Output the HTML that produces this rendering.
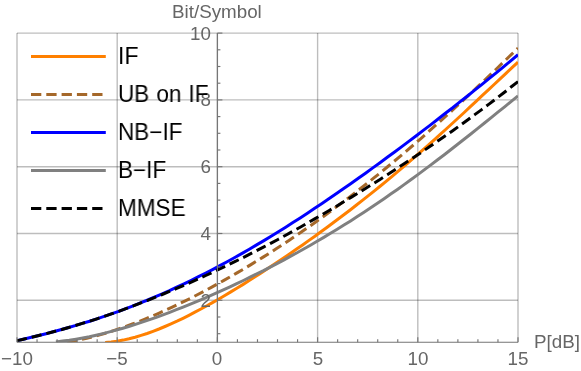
<!DOCTYPE html><html><head><meta charset="utf-8"><style>
html,body{margin:0;padding:0;background:#fff}
#w{position:relative;width:581px;height:371px;overflow:hidden;background:#fff;font-family:"Liberation Sans",sans-serif}
.t{position:absolute;color:#666;font-size:18.8px;line-height:20px;white-space:nowrap;will-change:transform}
.xt{transform:translateX(-50%);top:349.4px}
.yt{text-align:right;width:40px}
.lg{position:absolute;color:#000;font-size:23.0px;line-height:24px;left:117.5px;word-spacing:0.9px;will-change:transform;transform:scaleX(0.9783);transform-origin:0 0;white-space:nowrap}
</style></head><body><div id="w">
<svg width="581" height="371" viewBox="0 0 581 371" style="position:absolute;left:0;top:0">
<defs><clipPath id="c"><rect x="17.0" y="33.1" width="501.0" height="309.1"/></clipPath></defs>
<g stroke="#000" stroke-opacity="0.26" stroke-width="1.4" fill="none"><line x1="17.00" x2="17.00" y1="33.1" y2="342.2"/><line x1="117.20" x2="117.20" y1="33.1" y2="342.2"/><line x1="217.40" x2="217.40" y1="33.1" y2="342.2"/><line x1="317.60" x2="317.60" y1="33.1" y2="342.2"/><line x1="417.80" x2="417.80" y1="33.1" y2="342.2"/><line x1="518.00" x2="518.00" y1="33.1" y2="342.2"/><line x1="17.0" x2="518.0" y1="300.30" y2="300.30"/><line x1="17.0" x2="518.0" y1="233.50" y2="233.50"/><line x1="17.0" x2="518.0" y1="166.70" y2="166.70"/><line x1="17.0" x2="518.0" y1="99.90" y2="99.90"/><line x1="17.0" x2="518.0" y1="33.10" y2="33.10"/></g>
<g clip-path="url(#c)" fill="none" stroke-width="3">
<path d="M105.2 342.6 L111.2 342.0 L117.1 341.2 L123.1 340.1 L129.1 338.8 L135.1 337.2 L141.1 335.4 L147.1 333.5 L153.0 331.3 L159.0 329.0 L165.0 326.5 L171.0 323.9 L177.0 321.2 L183.0 318.3 L188.9 315.3 L194.9 312.2 L200.9 309.0 L206.9 305.8 L212.9 302.4 L218.9 299.0 L224.8 295.5 L230.8 291.9 L236.8 288.3 L242.8 284.6 L248.8 280.8 L254.7 277.0 L260.7 273.2 L266.7 269.3 L272.7 265.3 L278.7 261.3 L284.7 257.3 L290.6 253.2 L296.6 249.1 L302.6 244.9 L308.6 240.6 L314.6 236.4 L320.6 232.0 L326.5 227.7 L332.5 223.2 L338.5 218.8 L344.5 214.2 L350.5 209.7 L356.5 205.0 L362.4 200.4 L368.4 195.6 L374.4 190.8 L380.4 186.0 L386.4 181.1 L392.4 176.1 L398.3 171.1 L404.3 166.0 L410.3 160.9 L416.3 155.7 L422.3 150.4 L428.3 145.2 L434.2 139.8 L440.2 134.4 L446.2 129.0 L452.2 123.5 L458.2 118.0 L464.2 112.5 L470.1 106.9 L476.1 101.3 L482.1 95.7 L488.1 90.1 L494.1 84.5 L500.1 78.9 L506.0 73.3 L512.0 67.7 L518.0 62.2" stroke="#ff8000"/>
<path d="M67.1 342.2 L73.6 341.1 L80.2 339.8 L86.7 338.3 L93.2 336.7 L99.8 334.9 L106.3 333.0 L112.8 330.9 L119.4 328.7 L125.9 326.4 L132.4 324.0 L139.0 321.5 L145.5 318.9 L152.1 316.1 L158.6 313.3 L165.1 310.4 L171.7 307.4 L178.2 304.3 L184.7 301.1 L191.3 297.9 L197.8 294.5 L204.3 291.1 L210.9 287.6 L217.4 284.0 L223.9 280.4 L230.5 276.7 L237.0 272.9 L243.5 269.1 L250.1 265.1 L256.6 261.1 L263.1 257.1 L269.7 253.0 L276.2 248.8 L282.7 244.5 L289.3 240.2 L295.8 235.8 L302.4 231.3 L308.9 226.8 L315.4 222.2 L322.0 217.5 L328.5 212.8 L335.0 207.9 L341.6 203.1 L348.1 198.1 L354.6 193.1 L361.2 188.0 L367.7 182.9 L374.2 177.7 L380.8 172.4 L387.3 167.0 L393.8 161.6 L400.4 156.1 L406.9 150.6 L413.4 145.0 L420.0 139.3 L426.5 133.5 L433.0 127.7 L439.6 121.9 L446.1 116.0 L452.7 110.0 L459.2 104.0 L465.7 97.9 L472.3 91.8 L478.8 85.7 L485.3 79.5 L491.9 73.3 L498.4 67.0 L504.9 60.7 L511.5 54.4 L518.0 48.1" stroke="#a5682a" stroke-dasharray="10.1 5"/>
<path d="M17.0 340.7 L24.3 339.0 L31.5 337.3 L38.8 335.5 L46.0 333.7 L53.3 331.8 L60.6 329.8 L67.8 327.7 L75.1 325.6 L82.3 323.4 L89.6 321.2 L96.9 318.8 L104.1 316.4 L111.4 313.9 L118.7 311.3 L125.9 308.6 L133.2 305.8 L140.4 302.9 L147.7 300.0 L155.0 296.9 L162.2 293.8 L169.5 290.6 L176.7 287.2 L184.0 283.8 L191.3 280.3 L198.5 276.7 L205.8 273.0 L213.0 269.3 L220.3 265.4 L227.6 261.5 L234.8 257.5 L242.1 253.4 L249.3 249.2 L256.6 244.9 L263.9 240.6 L271.1 236.2 L278.4 231.7 L285.7 227.2 L292.9 222.6 L300.2 217.9 L307.4 213.2 L314.7 208.3 L322.0 203.5 L329.2 198.6 L336.5 193.6 L343.7 188.6 L351.0 183.5 L358.3 178.3 L365.5 173.2 L372.8 167.9 L380.0 162.7 L387.3 157.3 L394.6 152.0 L401.8 146.6 L409.1 141.1 L416.3 135.7 L423.6 130.1 L430.9 124.6 L438.1 119.0 L445.4 113.3 L452.7 107.7 L459.9 101.9 L467.2 96.2 L474.4 90.4 L481.7 84.6 L489.0 78.7 L496.2 72.8 L503.5 66.8 L510.7 60.8 L518.0 54.7" stroke="#0000ff"/>
<path d="M55.9 341.9 L62.6 341.1 L69.3 340.3 L76.0 339.2 L82.7 338.0 L89.4 336.7 L96.1 335.2 L102.8 333.6 L109.5 331.9 L116.2 330.1 L122.9 328.2 L129.5 326.2 L136.2 324.1 L142.9 321.9 L149.6 319.6 L156.3 317.3 L163.0 314.8 L169.7 312.3 L176.4 309.7 L183.1 307.1 L189.8 304.4 L196.5 301.6 L203.2 298.8 L209.9 295.9 L216.6 292.9 L223.3 289.9 L230.0 286.8 L236.7 283.7 L243.4 280.5 L250.1 277.2 L256.8 273.9 L263.5 270.6 L270.2 267.1 L276.9 263.6 L283.6 260.1 L290.3 256.4 L297.0 252.8 L303.7 249.0 L310.4 245.2 L317.1 241.3 L323.8 237.4 L330.5 233.3 L337.2 229.3 L343.9 225.1 L350.6 220.9 L357.3 216.6 L364.0 212.2 L370.7 207.8 L377.4 203.3 L384.1 198.7 L390.7 194.1 L397.4 189.4 L404.1 184.6 L410.8 179.8 L417.5 174.9 L424.2 169.9 L430.9 164.9 L437.6 159.8 L444.3 154.7 L451.0 149.5 L457.7 144.3 L464.4 139.0 L471.1 133.7 L477.8 128.3 L484.5 123.0 L491.2 117.6 L497.9 112.2 L504.6 106.8 L511.3 101.4 L518.0 95.9" stroke="#808080"/>
<path d="M17.0 340.7 L24.3 339.0 L31.5 337.3 L38.8 335.5 L46.0 333.7 L53.3 331.8 L60.6 329.8 L67.8 327.7 L75.1 325.6 L82.3 323.4 L89.6 321.2 L96.9 318.8 L104.1 316.4 L111.4 313.9 L118.7 311.3 L125.9 308.6 L133.2 305.9 L140.4 303.1 L147.7 300.3 L155.0 297.4 L162.2 294.5 L169.5 291.4 L176.7 288.4 L184.0 285.3 L191.3 282.1 L198.5 278.8 L205.8 275.5 L213.0 272.1 L220.3 268.7 L227.6 265.2 L234.8 261.7 L242.1 258.1 L249.3 254.4 L256.6 250.7 L263.9 246.9 L271.1 243.1 L278.4 239.2 L285.7 235.2 L292.9 231.2 L300.2 227.2 L307.4 223.1 L314.7 218.9 L322.0 214.7 L329.2 210.5 L336.5 206.2 L343.7 201.8 L351.0 197.4 L358.3 193.0 L365.5 188.5 L372.8 183.9 L380.0 179.4 L387.3 174.7 L394.6 170.0 L401.8 165.3 L409.1 160.5 L416.3 155.7 L423.6 150.8 L430.9 145.8 L438.1 140.8 L445.4 135.8 L452.7 130.7 L459.9 125.5 L467.2 120.2 L474.4 114.9 L481.7 109.6 L489.0 104.1 L496.2 98.6 L503.5 93.0 L510.7 87.3 L518.0 81.6" stroke="#000000" stroke-dasharray="10.1 5"/>
</g>
<g stroke="#757575" stroke-width="1.15" fill="none"><line x1="17.0" x2="518.0" y1="342.2" y2="342.2"/><line x1="217.40" x2="217.40" y1="33.1" y2="342.2"/><line x1="17.00" x2="17.00" y1="342.2" y2="337.2"/><line x1="37.04" x2="37.04" y1="342.2" y2="339.2"/><line x1="57.08" x2="57.08" y1="342.2" y2="339.2"/><line x1="77.12" x2="77.12" y1="342.2" y2="339.2"/><line x1="97.16" x2="97.16" y1="342.2" y2="339.2"/><line x1="117.20" x2="117.20" y1="342.2" y2="337.2"/><line x1="137.24" x2="137.24" y1="342.2" y2="339.2"/><line x1="157.28" x2="157.28" y1="342.2" y2="339.2"/><line x1="177.32" x2="177.32" y1="342.2" y2="339.2"/><line x1="197.36" x2="197.36" y1="342.2" y2="339.2"/><line x1="217.40" x2="217.40" y1="342.2" y2="337.2"/><line x1="237.44" x2="237.44" y1="342.2" y2="339.2"/><line x1="257.48" x2="257.48" y1="342.2" y2="339.2"/><line x1="277.52" x2="277.52" y1="342.2" y2="339.2"/><line x1="297.56" x2="297.56" y1="342.2" y2="339.2"/><line x1="317.60" x2="317.60" y1="342.2" y2="337.2"/><line x1="337.64" x2="337.64" y1="342.2" y2="339.2"/><line x1="357.68" x2="357.68" y1="342.2" y2="339.2"/><line x1="377.72" x2="377.72" y1="342.2" y2="339.2"/><line x1="397.76" x2="397.76" y1="342.2" y2="339.2"/><line x1="417.80" x2="417.80" y1="342.2" y2="337.2"/><line x1="437.84" x2="437.84" y1="342.2" y2="339.2"/><line x1="457.88" x2="457.88" y1="342.2" y2="339.2"/><line x1="477.92" x2="477.92" y1="342.2" y2="339.2"/><line x1="497.96" x2="497.96" y1="342.2" y2="339.2"/><line x1="518.00" x2="518.00" y1="342.2" y2="337.2"/><line x1="217.40" x2="220.40" y1="333.70" y2="333.70"/><line x1="217.40" x2="220.40" y1="317.00" y2="317.00"/><line x1="217.40" x2="222.40" y1="300.30" y2="300.30"/><line x1="217.40" x2="220.40" y1="283.60" y2="283.60"/><line x1="217.40" x2="220.40" y1="266.90" y2="266.90"/><line x1="217.40" x2="220.40" y1="250.20" y2="250.20"/><line x1="217.40" x2="222.40" y1="233.50" y2="233.50"/><line x1="217.40" x2="220.40" y1="216.80" y2="216.80"/><line x1="217.40" x2="220.40" y1="200.10" y2="200.10"/><line x1="217.40" x2="220.40" y1="183.40" y2="183.40"/><line x1="217.40" x2="222.40" y1="166.70" y2="166.70"/><line x1="217.40" x2="220.40" y1="150.00" y2="150.00"/><line x1="217.40" x2="220.40" y1="133.30" y2="133.30"/><line x1="217.40" x2="220.40" y1="116.60" y2="116.60"/><line x1="217.40" x2="222.40" y1="99.90" y2="99.90"/><line x1="217.40" x2="220.40" y1="83.20" y2="83.20"/><line x1="217.40" x2="220.40" y1="66.50" y2="66.50"/><line x1="217.40" x2="220.40" y1="49.80" y2="49.80"/><line x1="217.40" x2="222.40" y1="33.10" y2="33.10"/></g>
<g fill="none" stroke-width="3">
<line x1="31" x2="105.8" y1="56.5" y2="56.5" stroke="#ff8000"/>
<line x1="31" x2="105.8" y1="94.5" y2="94.5" stroke="#a5682a" stroke-dasharray="10.3 5"/>
<line x1="31" x2="105.8" y1="132.5" y2="132.5" stroke="#0000ff"/>
<line x1="31" x2="105.8" y1="170.5" y2="170.5" stroke="#808080"/>
<line x1="31" x2="105.8" y1="208.5" y2="208.5" stroke="#000000" stroke-dasharray="10.3 5"/>
</g>
</svg>
<div class="t xt" style="left:17.0px">−10</div>
<div class="t xt" style="left:117.2px">−5</div>
<div class="t xt" style="left:217.4px">0</div>
<div class="t xt" style="left:317.6px">5</div>
<div class="t xt" style="left:417.8px">10</div>
<div class="t xt" style="left:518.0px">15</div>
<div class="t yt" style="left:171.4px;top:290.7px">2</div>
<div class="t yt" style="left:171.4px;top:223.9px">4</div>
<div class="t yt" style="left:171.4px;top:157.1px">6</div>
<div class="t yt" style="left:171.4px;top:90.3px">8</div>
<div class="t yt" style="left:171.4px;top:23.5px">10</div>
<div class="t" style="left:172.2px;top:2px">Bit/Symbol</div>
<div class="t" style="left:534.1px;top:332px">P[dB]</div>
<div class="lg" style="top:44.2px">IF</div>
<div class="lg" style="top:82.2px">UB on IF</div>
<div class="lg" style="top:120.2px">NB−IF</div>
<div class="lg" style="top:158.2px">B−IF</div>
<div class="lg" style="top:196.2px">MMSE</div>
</div></body></html>
